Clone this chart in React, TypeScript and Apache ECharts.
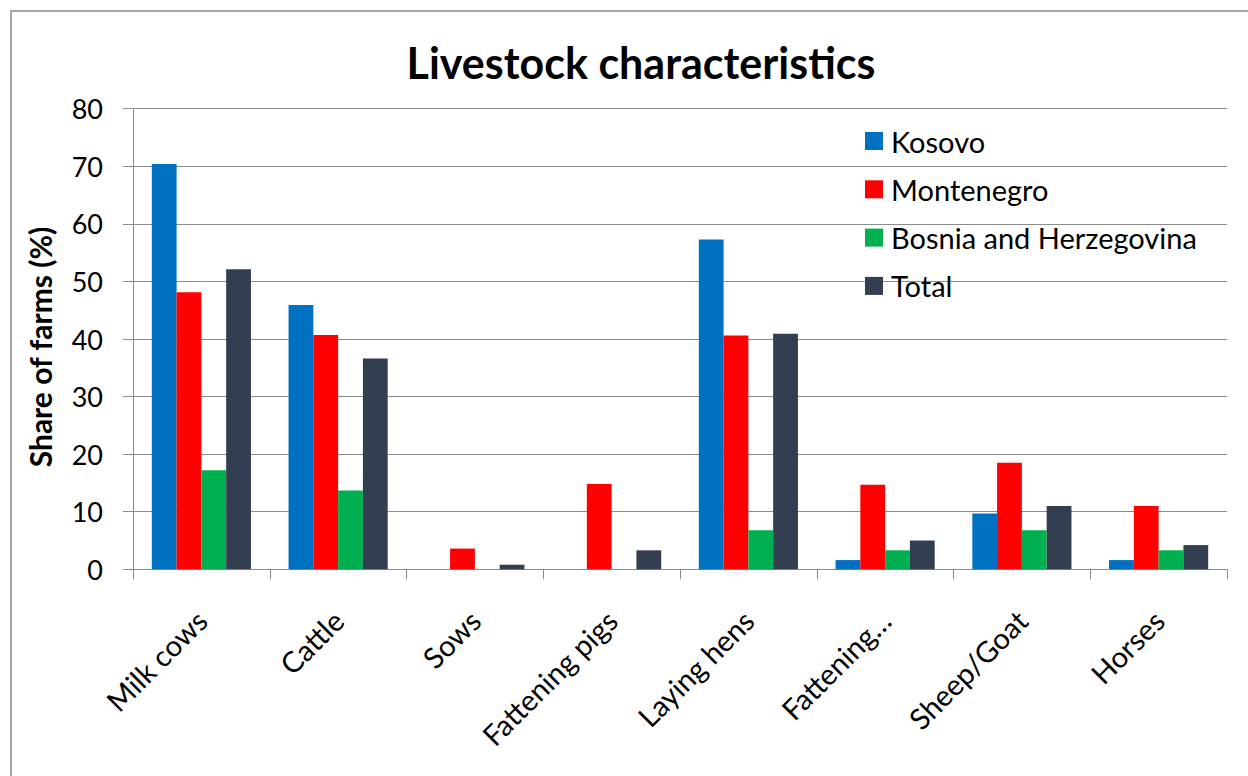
import React, { useEffect, useRef } from "react";
import * as echarts from "echarts";

const categories = ["Milk cows", "Cattle", "Sows", "Fattening pigs", "Laying hens", "Fattening…", "Sheep/Goat", "Horses"];
const seriesNames = ["Kosovo", "Montenegro", "Bosnia and Herzegovina", "Total"];
const kosovo = [70.4, 45.9, 0, 0, 57.3, 1.6, 9.7, 1.6];
const montenegro = [48.1, 40.7, 3.6, 14.8, 40.6, 14.7, 18.5, 11.0];
const bosnia = [17.2, 13.7, 0, 0, 6.8, 3.3, 6.8, 3.3];
const total = [52.1, 36.6, 0.8, 3.3, 40.9, 5.0, 11.0, 4.2];
const colors = ["#0070C0", "#FF0000", "#00B050", "#333F50"];

const FONT = "Lato, 'Noto Sans', sans-serif";

export default function App() {
  const ref = useRef<HTMLDivElement>(null);
  useEffect(() => {
    if (!ref.current) return;
    const chart = echarts.init(ref.current, null, { renderer: "svg" });
    const values = [kosovo, montenegro, bosnia, total];
    chart.setOption({
      animation: false,
      backgroundColor: "#ffffff",
      textStyle: { fontFamily: FONT },
      title: {
        text: "Livestock characteristics",
        left: 636,
        top: 36,
        textAlign: "center",
        textStyle: { fontFamily: FONT, fontSize: 43, fontWeight: "bold", color: "#000" },
      },
      graphic: [
        {
          type: "rect",
          shape: { x: 11, y: 11, width: 1400, height: 1000 },
          style: { fill: "none", stroke: "#A6A6A6", lineWidth: 2 },
          silent: true,
          z: 100,
        },
      ],
      legend: {
        orient: "vertical",
        left: 860,
        top: 121,
        itemWidth: 18,
        itemHeight: 18,
        itemGap: 18.3,
        icon: "rect",
        data: seriesNames,
        textStyle: { fontFamily: FONT, fontSize: 29, lineHeight: 30, color: "#000", padding: [0, 0, 0, 3] },
      },
      grid: { left: 133, top: 108.7, right: 21, bottom: 206.7, containLabel: false },
      xAxis: {
        type: "category",
        data: categories,
        axisLine: { show: true, lineStyle: { color: "#8C8C8C", width: 1 } },
        axisTick: { show: true, length: 10, lineStyle: { color: "#8C8C8C" } },
        axisLabel: {
          rotate: 45,
          margin: 46,
          align: "right",
          verticalAlign: "middle",
          fontFamily: FONT,
          fontSize: 29,
          color: "#000",
          interval: 0,
        },
      },
      yAxis: {
        type: "value",
        min: 0,
        max: 80,
        interval: 10,
        name: "Share of farms (%)",
        nameLocation: "middle",
        nameRotate: 90,
        nameGap: 78,
        nameTextStyle: { fontFamily: FONT, fontSize: 30, fontWeight: "bold", color: "#000", padding: [0, 16, 0, 0] },
        axisLine: { show: true, lineStyle: { color: "#8C8C8C", width: 1 } },
        axisTick: { show: true, length: 10, lineStyle: { color: "#8C8C8C" } },
        axisLabel: { margin: 30, fontFamily: FONT, fontSize: 27, color: "#000" },
        splitLine: { show: true, lineStyle: { color: "#8C8C8C", width: 1 } },
      },
      series: seriesNames.map((name, i) => ({
        name,
        type: "bar",
        data: values[i],
        barGap: "0%",
        barCategoryGap: "27.5%",
        itemStyle: { color: colors[i] },
      })),
    });
    return () => chart.dispose();
  }, []);
  return <div ref={ref} style={{ position: "fixed", left: 0, top: 0, width: 1248, height: 776 }} />;
}
